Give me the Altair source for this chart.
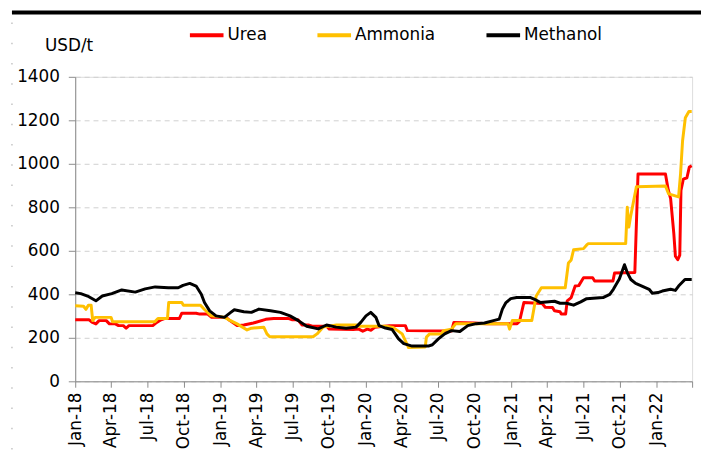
import altair as alt
import pandas as pd

series_names = ["Urea", "Ammonia", "Methanol"]
series_colors = ["#ff0000", "#ffc000", "#000000"]

urea_dates = ["2018-01-01","2018-02-05","2018-02-12","2018-02-22","2018-03-02","2018-03-20","2018-03-28","2018-04-12",
              "2018-04-20","2018-05-02","2018-05-09","2018-05-16","2018-07-15","2018-07-25","2018-08-05","2018-08-15",
              "2018-09-20","2018-09-26","2018-11-01","2018-11-10","2018-11-30","2018-12-10","2019-01-15","2019-01-25",
              "2019-02-12","2019-03-01","2019-03-25","2019-04-25","2019-05-15","2019-06-20","2019-07-01","2019-07-15",
              "2019-07-25","2019-08-10","2019-08-20","2019-09-25","2019-10-02","2019-12-01","2019-12-15","2019-12-25",
              "2020-01-05","2020-01-15","2020-01-25","2020-03-01","2020-04-10","2020-04-15","2020-08-04","2020-08-10",
              "2020-10-01","2020-11-01","2021-01-16","2021-01-22","2021-02-02","2021-03-20","2021-03-28","2021-04-15",
              "2021-04-20","2021-05-04","2021-05-07","2021-05-18","2021-05-22","2021-06-01","2021-06-11","2021-06-20",
              "2021-07-02","2021-07-25","2021-07-30","2021-09-14","2021-09-18","2021-11-08","2021-11-16","2022-01-24",
              "2022-01-31","2022-02-06","2022-02-14","2022-02-18","2022-02-24","2022-03-01","2022-03-04","2022-03-10",
              "2022-03-19","2022-03-25","2022-03-31"]
urea_values = [283,283,272,264,279,279,264,264,
               256,256,244,256,256,271,283,289,
               289,313,313,309,309,294,294,279,
               256,259,268,285,289,289,283,283,
               259,259,253,253,240,238,240,230,
               240,235,249,256,256,233,231,271,
               268,265,265,275,362,358,340,339,
               324,320,309,309,370,385,438,440,
               476,476,461,461,498,500,953,953,
               880,840,680,575,559,580,877,930,
               936,985,991]

ammonia_dates = ["2018-01-01","2018-01-22","2018-01-28","2018-02-03","2018-02-10","2018-02-14","2018-02-20","2018-04-01",
                 "2018-04-05","2018-07-20","2018-07-28","2018-08-21","2018-08-24","2018-09-26","2018-09-30","2018-11-12",
                 "2018-11-22","2018-12-09","2019-01-10","2019-01-20","2019-02-12","2019-03-09","2019-03-20","2019-04-20",
                 "2019-04-28","2019-05-05","2019-08-22","2019-09-01","2019-09-16","2019-10-20","2019-12-10","2019-12-15",
                 "2020-02-20","2020-03-10","2020-04-02","2020-04-18","2020-05-30","2020-06-02","2020-06-10","2020-07-10",
                 "2020-07-15","2020-08-04","2020-08-15","2020-12-24","2020-12-28","2021-01-04","2021-02-22","2021-03-05",
                 "2021-03-18","2021-05-17","2021-05-25","2021-06-01","2021-06-07","2021-07-02","2021-07-10","2021-07-14",
                 "2021-10-16","2021-10-20","2021-10-24","2021-10-28","2021-11-12","2022-01-24","2022-02-01","2022-02-26",
                 "2022-03-03","2022-03-08","2022-03-15","2022-03-24","2022-03-31"]
ammonia_values = [347,345,331,350,350,279,294,294,
                  274,274,289,289,362,362,350,350,
                  330,301,295,285,264,236,244,249,
                  218,205,205,218,249,259,259,253,
                  253,248,218,155,158,203,218,218,
                  233,240,265,265,240,280,280,392,
                  430,430,544,558,605,610,627,633,
                  633,800,709,754,895,898,862,848,
                  955,1105,1212,1241,1241]

methanol_dates = ["2018-01-01","2018-01-15","2018-02-01","2018-02-22","2018-03-10","2018-04-03","2018-04-28","2018-06-01",
                  "2018-06-26","2018-07-21","2018-08-23","2018-09-17","2018-09-29","2018-10-16","2018-11-01","2018-11-14",
                  "2018-11-22","2018-12-05","2018-12-21","2019-01-11","2019-01-27","2019-02-05","2019-03-01","2019-03-20",
                  "2019-04-08","2019-05-07","2019-06-01","2019-06-25","2019-07-16","2019-08-06","2019-09-04","2019-09-25",
                  "2019-10-19","2019-11-13","2019-12-08","2019-12-20","2020-01-02","2020-01-14","2020-01-27","2020-02-04",
                  "2020-02-20","2020-03-08","2020-03-24","2020-04-06","2020-04-27","2020-06-07","2020-06-17","2020-07-02",
                  "2020-07-18","2020-08-04","2020-08-25","2020-09-14","2020-10-05","2020-10-26","2020-11-20","2020-12-02",
                  "2020-12-10","2020-12-19","2020-12-31","2021-01-15","2021-02-19","2021-03-01","2021-03-16","2021-04-20",
                  "2021-05-04","2021-05-20","2021-06-07","2021-06-25","2021-07-10","2021-08-20","2021-09-06","2021-09-15",
                  "2021-09-30","2021-10-13","2021-10-20","2021-10-29","2021-11-10","2021-11-23","2021-12-14","2021-12-22",
                  "2022-01-05","2022-01-16","2022-02-06","2022-02-18","2022-02-26","2022-03-14","2022-03-31"]
methanol_values = [407,403,392,370,392,403,420,410,
                   425,434,430,430,441,450,438,400,
                   362,324,301,294,317,329,320,317,
                   332,324,317,301,279,253,241,259,
                   249,244,249,271,301,317,294,256,
                   245,238,195,173,162,162,168,195,
                   218,233,229,256,265,268,280,286,
                   332,362,380,385,385,377,362,368,
                   359,359,350,365,380,385,400,423,
                   470,536,500,468,450,440,423,405,
                   408,415,423,418,438,468,468]

y_ticks = [0, 200, 400, 600, 800, 1000, 1200, 1400]
quarter_starts = [(y, m) for y in range(2018, 2023) for m in (1, 4, 7, 10)][:18]

rows = []
for name, ds, vs in [("Urea", urea_dates, urea_values),
                     ("Ammonia", ammonia_dates, ammonia_values),
                     ("Methanol", methanol_dates, methanol_values)]:
    for d, v in zip(ds, vs):
        rows.append({"date": d, "price": v, "series": name})
df = pd.DataFrame(rows)

FONT = "DejaVu Sans"

x_values = [alt.DateTime(year=y, month=m, date=1, utc=True) for (y, m) in quarter_starts]

lines = alt.Chart(df).mark_line(strokeWidth=3, strokeJoin="round").encode(
    x=alt.X("date:T",
            scale=alt.Scale(type="utc",
                            domain=[alt.DateTime(year=2018, month=1, date=1, utc=True),
                                    alt.DateTime(year=2022, month=4, date=1, utc=True)]),
            axis=alt.Axis(values=x_values, title=None, grid=False,
                          labelExpr="datum.value >= utc(2022, 2, 1) ? '' : utcFormat(datum.value, '%b-%y')",
                          labelAngle=270, labelAlign="right", labelBaseline="middle",
                          labelFont=FONT, labelFontSize=17, labelColor="#000000", labelPadding=5,
                          tickSize=6, tickColor="#8c8c8c", domainColor="#8c8c8c", labelOverlap=False)),
    y=alt.Y("price:Q",
            scale=alt.Scale(domain=[0, 1400], nice=False),
            axis=alt.Axis(values=y_ticks, format="d", title="USD/t", titleAngle=0, titleX=-31, titleY=-32,
                          titleAlign="left", titleBaseline="middle", titleFont=FONT, titleFontSize=17,
                          titleFontWeight="normal", titleColor="#000000",
                          grid=True, gridDash=[5, 4], gridColor="#cfcfcf", gridWidth=1,
                          tickSize=7, tickColor="#8c8c8c", domainColor="#8c8c8c",
                          labelFont=FONT, labelFontSize=17, labelColor="#000000", labelPadding=9)),
    color=alt.Color("series:N",
                    scale=alt.Scale(domain=series_names, range=series_colors),
                    legend=alt.Legend(title=None, orient="none", legendX=114, legendY=-61,
                                      direction="horizontal", symbolType="stroke", symbolSize=1156,
                                      symbolStrokeWidth=4, labelFont=FONT, labelFontSize=17,
                                      labelColor="#000000", columnPadding=43, labelOffset=2)),
)

one = pd.DataFrame({"k": [0]})
top_bar = alt.Chart(one).mark_rule(color="#000000", strokeWidth=4).encode(
    x=alt.value(-64), x2=alt.value(633), y=alt.value(-65))
left_dots = alt.Chart(one).mark_rule(color="#c4c4c4", strokeWidth=1.5, strokeDash=[1.5, 19]).encode(
    x=alt.value(-64), y=alt.value(-55), y2=alt.value(378))

chart = alt.layer(left_dots, top_bar, lines).properties(
    width=624, height=308,
    autosize=alt.AutoSizeParams(type="none"),
    padding={"left": 68, "top": 67, "right": 9, "bottom": 78},
).configure_view(stroke=None).configure(background="#ffffff")

chart.save("out.html", embed_options={"renderer": "svg", "actions": False})
